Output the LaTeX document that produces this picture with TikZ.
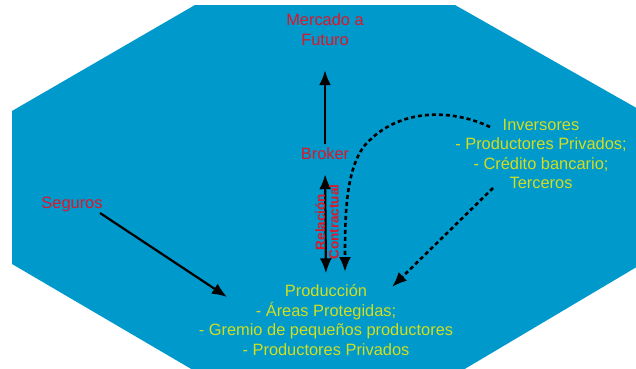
\documentclass[tikz,border=0pt]{standalone}
\usepackage{fontspec}
\setmainfont{Liberation Sans}
\usepackage{tikz}
\usetikzlibrary{arrows.meta,positioning}
\definecolor{octblue}{HTML}{0099CC}
\definecolor{labred}{HTML}{DD1628}
\definecolor{labyellow}{HTML}{D2DE1E}

\begin{document}
\begin{tikzpicture}[x=1pt,y=1pt,>={Latex[length=15pt,width=12pt]},
  redtext/.style = {text=labred, inner sep=2pt, font=\fontsize{16.4}{20}\selectfont, align=center},
  yeltext/.style = {text=labyellow, inner sep=2pt, font=\fontsize{16.4}{19.6}\selectfont, align=center},
  solidarrow/.style = {->, line width=2.2pt, black},
  dotarrow/.style = {->, line width=2.6pt, black, dash pattern=on 4pt off 3pt},]
\useasboundingbox (0,0) rectangle (636,368);
\fill[octblue] (195,363) -- (455,363) -- (640,258) -- (640,103) -- (463,-2) -- (193,-2) -- (12,104) -- (12,257) -- cycle;
\node (mercado) at (325,338)[redtext] {Mercado a\\Futuro};
\node (broker) at (325,214)[redtext] {Broker};
\node (seguros) at (72,164)[redtext] {Seguros};
\node (inversores) at (541,214)[yeltext] {Inversores\\- Productores Privados;\\- Crédito bancario;\\Terceros};
\node (produccion) at (326,48)[yeltext] {Producción\\- Áreas Protegidas;\\- Gremio de pequeños productores\\- Productores Privados};
\coordinate (segStart) at (100,155);
\coordinate (segEnd) at (227,71);
\coordinate (invStart) at (493,180);
\coordinate (invEnd) at (392,81);
\coordinate (curveStart) at (490,241);
\coordinate (curveEnd) at (345,96);
\draw[solidarrow,shorten <=2pt,shorten >=22pt] (broker.north) -- (mercado.south);
\draw[solidarrow,<->,shorten <=12pt,shorten >=9pt] (broker.south) -- (produccion.north);
\node (relacion) at (327,146)[text=labred, rotate=90, align=center, inner sep=0pt, font=\fontsize{13.5}{13.5}\selectfont\bfseries] {Relación\\Contractual};
\draw[solidarrow] (segStart) -- (segEnd);
\draw[dotarrow] (invStart) -- (invEnd);
\draw[dotarrow] (curveStart) .. controls (455,258) and (400,262) .. (365,223) .. controls (345,198) and (345,148) .. (curveEnd);
\end{tikzpicture}
\end{document}
